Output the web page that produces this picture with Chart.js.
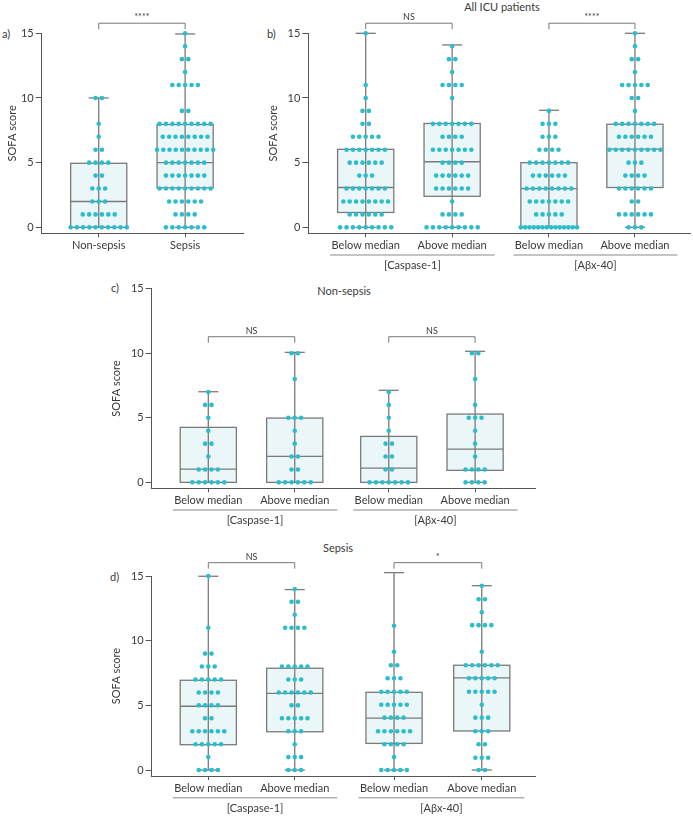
<!DOCTYPE html>
<html>
<head>
<meta charset="utf-8">
<script src="https://cdn.jsdelivr.net/npm/chart.js@4.4.1/dist/chart.umd.min.js"></script>
<style>
  body { margin: 0; background: #fff; width: 693px; height: 816px; position: relative; overflow: hidden; font-family: Lato, sans-serif; color: #3a3a3a; }
  canvas { position: absolute; }
  .t { position: absolute; font-size: 11px; white-space: nowrap; transform: translate(-50%, -50%); }
  .l { position: absolute; font-size: 11px; white-space: nowrap; transform: translate(0, -50%); }
</style>
</head>
<body>
<div class="l" style="left:2px;top:33px">a)</div>
<div class="l" style="left:267px;top:33px">b)</div>
<div class="l" style="left:111px;top:287px">c)</div>
<div class="l" style="left:110px;top:576px">d)</div>
<div class="t" style="left:502px;top:6px">All ICU patients</div>
<div class="t" style="left:344px;top:290px">Non-sepsis</div>
<div class="t" style="left:338px;top:547px">Sepsis</div>

<canvas id="chartA"></canvas>
<canvas id="chartB"></canvas>
<canvas id="chartC"></canvas>
<canvas id="chartD"></canvas>

<script>
// ---- data: dots are [SOFA score, number of patients] ----
const aLabels = ['Non-sepsis', 'Sepsis'];
const medianLabels = ['Below median', 'Above median', 'Below median', 'Above median'];
const markerLabels = ['[Caspase-1]', '[A\u03b2x-40]'];

// a) all ICU patients, by sepsis
const aNonSepsisDots = [[0,10],[1,6],[2,3],[3,3],[4,2],[5,4],[6,2],[7,1],[8,1],[10,2]];
const aSepsisDots = [[0,7],[1,4],[2,6],[3,9],[4,7],[5,7],[6,10],[7,8],[8,9],[9,2],[11,5],[12,1],[13,2],[14,1],[15,1]];
// box stats: min, q1, median, q3, max
const aNonSepsisBox = [0, 0, 2, 4.95, 10];
const aSepsisBox = [0, 3.05, 5, 7.95, 14.95];
const aSig = ['****'];

// b) all ICU patients
const bCaspBelowDots = [[0,9],[1,6],[2,8],[3,7],[4,3],[5,6],[6,7],[7,5],[8,2],[9,2],[10,1],[11,1],[15,1]];
const bCaspAboveDots = [[0,9],[1,4],[2,1],[3,6],[4,6],[5,4],[6,7],[7,4],[8,7],[10,1],[11,4],[12,1],[13,2],[14,1]];
const bAbxBelowDots = [[0,14],[1,5],[2,7],[3,8],[4,6],[5,7],[6,4],[7,3],[8,3],[9,1]];
const bAbxAboveDots = [[0,3],[1,6],[2,2],[3,6],[4,4],[5,3],[6,9],[7,6],[8,7],[9,1],[10,2],[11,5],[12,1],[13,2],[14,1],[15,1]];
const bCaspBelowBox = [0, 1.15, 3.08, 6.03, 15];
const bCaspAboveBox = [0, 2.4, 5.07, 8.03, 14.1];
const bAbxBelowBox = [0, 0, 3, 5, 9.05];
const bAbxAboveBox = [0, 3.08, 6.05, 7.97, 15];
const bSig = ['NS', '****'];

// c) non-sepsis
const cCaspBelowDots = [[0,6],[1,4],[2,1],[3,2],[4,1],[5,1],[6,2],[7,1]];
const cCaspAboveDots = [[0,6],[1,2],[2,2],[3,1],[4,1],[5,3],[8,1],[10,2]];
const cAbxBelowDots = [[0,7],[1,2],[2,2],[3,2],[4,1],[5,1],[6,1],[7,1]];
const cAbxAboveDots = [[0,4],[1,4],[2,1],[3,1],[4,1],[5,3],[6,1],[8,1],[10,2]];
const cCaspBelowBox = [0, 0, 1.03, 4.26, 7.02];
const cCaspAboveBox = [0, 0, 2.01, 4.98, 10.07];
const cAbxBelowBox = [0, 0, 1.11, 3.56, 7.13];
const cAbxAboveBox = [0, 0.93, 2.58, 5.29, 10.15];
const cSig = ['NS', 'NS'];

// d) sepsis
const dCaspBelowDots = [[0,4],[1,1],[2,5],[3,6],[4,2],[5,4],[6,4],[7,5],[8,3],[9,2],[11,1],[15,1]];
const dCaspAboveDots = [[0,3],[1,3],[2,1],[3,3],[4,5],[5,2],[6,6],[7,3],[8,5],[11,4],[12,1],[13,2],[14,1]];
const dAbxBelowDots = [[0,5],[1,1],[2,4],[3,6],[4.05,4],[5.05,5],[6.05,5],[7.1,3],[8.1,2],[9.15,1],[11.15,1],[15.25,1]];
const dAbxAboveDots = [[0,2],[0.95,3],[2,2],[3,3],[4.05,3],[5.05,1],[6.05,5],[7.1,5],[8.1,6],[9.15,1],[11.2,4],[12.2,1],[13.2,2],[14.25,1]];
const dCaspBelowBox = [0, 1.96, 4.93, 6.94, 14.98];
const dCaspAboveBox = [0, 2.96, 5.93, 7.87, 13.95];
const dAbxBelowBox = [0, 2.06, 4.02, 6.01, 15.26];
const dAbxAboveBox = [0, 3.02, 7.12, 8.1, 14.25];
const dSig = ['NS', '*'];

const yTicks = [0, 5, 10, 15];

// ---- look ----
const DOT = '#2cbdcb';
const BOX_FILL = '#ebf6f9';
const LINE = '#7a7a7a';
const AXIS = '#555';
const TEXT = '#3a3a3a';
const BOX_HALF = 0.325;   // in slot units
const CAP_HALF = 0.116;
const DOT_STEP = 0.074;

Chart.defaults.font.family = 'Lato, sans-serif';
Chart.defaults.font.size = 11;
Chart.defaults.color = TEXT;

const panels = [
  { id: 'chartA', left: 0, top: 0, w: 250, h: 275, yAxisW: 41.7, padTop: 33.3, padRight: 7, xAxisH: 41.7, titlePad: 5.4,
    xmin: -0.66, xmax: 1.67, slots: [0, 1], labels: aLabels,
    dots: [aNonSepsisDots, aSepsisDots], boxes: [aNonSepsisBox, aSepsisBox], sig: aSig, sigY: 15.78, groups: false },
  { id: 'chartB', left: 262, top: 0, w: 431, h: 275, yAxisW: 46.3, padTop: 33.3, padRight: 2, xAxisH: 41.7, titlePad: 4.4,
    xmin: -0.664, xmax: 3.76, slots: [0, 1, 2.12, 3.115], labels: medianLabels,
    dots: [bCaspBelowDots, bCaspAboveDots, bAbxBelowDots, bAbxAboveDots],
    boxes: [bCaspBelowBox, bCaspAboveBox, bAbxBelowBox, bAbxAboveBox], sig: bSig, sigY: 15.78, groups: true },
  { id: 'chartC', left: 100, top: 280, w: 440, h: 250, yAxisW: 51.7, padTop: 8.7, padRight: 5, xAxisH: 41.7, titlePad: 9.4,
    xmin: -0.655, xmax: 3.78, slots: [0, 1, 2.088, 3.087], labels: medianLabels,
    dots: [cCaspBelowDots, cCaspAboveDots, cAbxBelowDots, cAbxAboveDots],
    boxes: [cCaspBelowBox, cCaspAboveBox, cAbxBelowBox, cAbxAboveBox], sig: cSig, sigY: 11.28, groups: true },
  { id: 'chartD', left: 100, top: 548, w: 440, h: 268, yAxisW: 51.7, padTop: 28, padRight: 5, xAxisH: 40, titlePad: 9.4,
    xmin: -0.655, xmax: 3.78, slots: [0, 1, 2.149, 3.164], labels: medianLabels,
    dots: [dCaspBelowDots, dCaspAboveDots, dAbxBelowDots, dAbxAboveDots],
    boxes: [dCaspBelowBox, dCaspAboveBox, dAbxBelowBox, dAbxAboveBox], sig: dSig, sigY: 16.03, groups: true }
];

function swarm(pairs, cx) {
  const pts = [];
  pairs.forEach(([score, n]) => {
    const step = n > 1 ? Math.min(DOT_STEP, (2 * BOX_HALF) / (n - 1)) : 0;
    for (let i = 0; i < n; i++) pts.push({ x: cx + (i - (n - 1) / 2) * step, y: score });
  });
  return pts;
}

function line(ctx, x1, y1, x2, y2) {
  ctx.beginPath(); ctx.moveTo(x1, y1); ctx.lineTo(x2, y2); ctx.stroke();
}

function boxPlugin(p) {
  return {
    id: 'boxes',
    beforeDatasetsDraw(chart) {
      const { ctx, scales: { x, y } } = chart;
      ctx.save();
      p.boxes.forEach((b, i) => {
        const cx = x.getPixelForValue(p.slots[i]);
        const hw = x.getPixelForValue(p.slots[i] + BOX_HALF) - cx;
        const ch = x.getPixelForValue(p.slots[i] + CAP_HALF) - cx;
        const [mn, q1, md, q3, mx] = b.map(v => y.getPixelForValue(v));
        ctx.fillStyle = BOX_FILL;
        ctx.fillRect(cx - hw, q3, 2 * hw, q1 - q3);
        ctx.strokeStyle = LINE;
        ctx.lineWidth = 1.3;
        line(ctx, cx, mn, cx, mx);
        line(ctx, cx - ch, mx, cx + ch, mx);
        line(ctx, cx - ch, mn, cx + ch, mn);
        ctx.strokeRect(cx - hw, q3, 2 * hw, q1 - q3);
        line(ctx, cx - hw, md, cx + hw, md);
      });
      ctx.restore();
    },
    afterDraw(chart) {
      const { ctx, chartArea, scales: { x, y } } = chart;
      ctx.save();
      // significance brackets
      p.sig.forEach((s, k) => {
        const x1 = x.getPixelForValue(p.slots[2 * k]);
        const x2 = x.getPixelForValue(p.slots[2 * k + 1]);
        const by = y.getPixelForValue(p.sigY);
        ctx.strokeStyle = '#777';
        ctx.lineWidth = 1;
        ctx.beginPath();
        ctx.moveTo(x1, by + 6); ctx.lineTo(x1, by); ctx.lineTo(x2, by); ctx.lineTo(x2, by + 6);
        ctx.stroke();
        ctx.fillStyle = TEXT;
        ctx.font = '9px Lato, sans-serif';
        ctx.textAlign = 'center';
        ctx.textBaseline = 'middle';
        ctx.fillText(s, (x1 + x2) / 2, by - 6);
      });
      // marker group underlines
      if (p.groups) {
        markerLabels.forEach((m, k) => {
          const x1 = x.getPixelForValue(p.slots[2 * k]) - 35.5;
          const x2 = x.getPixelForValue(p.slots[2 * k + 1]) + 42.5;
          const uy = chartArea.bottom + 21.7;
          ctx.strokeStyle = '#b0b0b0';
          ctx.lineWidth = 1.5;
          line(ctx, x1, uy, x2, uy);
          ctx.fillStyle = TEXT;
          ctx.font = '11px Lato, sans-serif';
          ctx.textAlign = 'center';
          ctx.textBaseline = 'middle';
          ctx.fillText(m, (x1 + x2) / 2, uy + 10.5);
        });
      }
      ctx.restore();
    }
  };
}

panels.forEach(p => {
  const cv = document.getElementById(p.id);
  cv.width = p.w; cv.height = p.h;
  cv.style.left = p.left + 'px'; cv.style.top = p.top + 'px';
  const pts = [];
  p.dots.forEach((d, i) => pts.push(...swarm(d, p.slots[i])));
  new Chart(cv, {
    type: 'scatter',
    data: {
      datasets: [{
        data: pts,
        pointRadius: 2.3,
        pointHoverRadius: 2.3,
        backgroundColor: DOT,
        borderWidth: 0,
        clip: false
      }]
    },
    options: {
      responsive: false,
      animation: false,
      events: [],
      layout: { padding: { top: p.padTop, right: p.padRight, left: 0, bottom: 0 } },
      plugins: { legend: { display: false }, tooltip: { enabled: false } },
      scales: {
        x: {
          type: 'linear', min: p.xmin, max: p.xmax,
          afterBuildTicks: s => { s.ticks = p.slots.map(v => ({ value: v })); },
          afterFit: s => { s.height = p.xAxisH; },
          grid: { display: true, drawOnChartArea: false, drawTicks: true, tickLength: 4, color: AXIS },
          border: { display: true, color: AXIS, width: 1 },
          ticks: { autoSkip: false, maxRotation: 0, padding: 2, font: { size: 11 },
                   callback: (v, i) => p.labels[i] }
        },
        y: {
          type: 'linear', min: -0.46, max: 15,
          afterBuildTicks: s => { s.ticks = yTicks.map(v => ({ value: v })); },
          afterFit: s => { s.width = p.yAxisW; },
          grid: { display: true, drawOnChartArea: false, drawTicks: true, tickLength: 6, color: AXIS },
          border: { display: true, color: AXIS, width: 1 },
          ticks: { padding: 2, font: { size: 11 } },
          title: { display: true, text: 'SOFA score', font: { size: 11 }, padding: { top: p.titlePad, bottom: 0 } }
        }
      }
    },
    plugins: [boxPlugin(p)]
  });
});
</script>
</body>
</html>
